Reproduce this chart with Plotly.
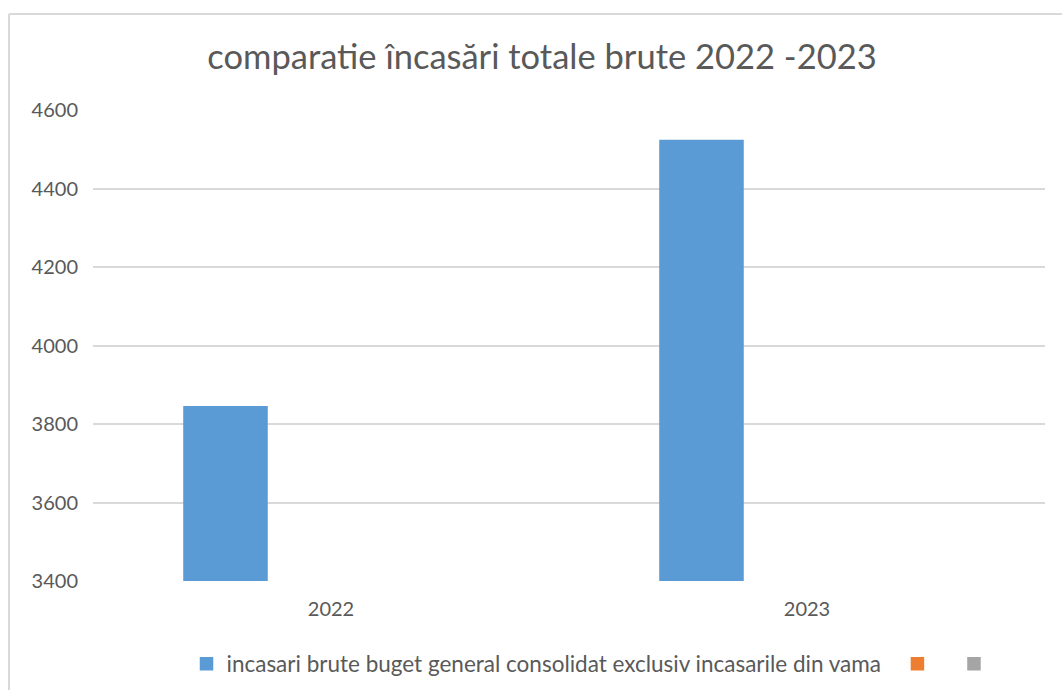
import plotly.graph_objects as go

years = ["2022", "2023"]
series_names = ["incasari brute buget general consolidat exclusiv incasarile din vama\u00a0\u00a0",
                "\u00a0\u00a0", "\u00a0"]
blue_vals = [3844, 4522]
orange_vals = [None, None]
gray_vals = [None, None]
tick_vals = [3400, 3600, 3800, 4000, 4200, 4400, 4600]

W, H = 1062, 690
L, R, T, B = 93, 17, 110, 109
pw = W - L - R
ph = H - T - B

def px_x(p):
    return (p - L) / pw

def px_y(p):
    return (H - B - p) / ph

font_color = "#595959"
fam = "Lato, 'Open Sans', sans-serif"

fig = go.Figure()
fig.add_trace(go.Bar(x=years, y=blue_vals, name=series_names[0],
                     marker=dict(color="#5B9BD5", line=dict(color="#5B9BD5", width=1.5))))
fig.add_trace(go.Bar(x=years, y=orange_vals, name=series_names[1],
                     marker=dict(color="#ED7D31", line=dict(color="#ED7D31", width=1.5))))
fig.add_trace(go.Bar(x=years, y=gray_vals, name=series_names[2],
                     marker=dict(color="#A5A5A5", line=dict(color="#A5A5A5", width=1.5))))

fig.update_layout(
    width=W, height=H,
    margin=dict(l=L, r=R, t=T, b=B, autoexpand=False),
    paper_bgcolor="white", plot_bgcolor="white",
    barmode="group", bargap=0.335, bargroupgap=0.213,
    font=dict(family=fam, color=font_color, size=19),
    title=dict(text="comparatie încasări totale brute 2022 -2023", x=542 / W, xref="container", xanchor="center",
               y=1 - 57 / H, yref="container", yanchor="middle",
               font=dict(size=34.5, color=font_color, family=fam)),
    showlegend=True,
    legend=dict(orientation="h", x=px_x(596), xanchor="center", y=px_y(664), yanchor="middle",
                font=dict(size=22.5, color=font_color), bgcolor="rgba(0,0,0,0)",
                itemwidth=30, borderwidth=0),
    shapes=[
        dict(type="line", xref="paper", yref="paper", x0=px_x(9), x1=px_x(1070), y0=px_y(14), y1=px_y(14),
             line=dict(color="#D9D9D9", width=2)),
        dict(type="line", xref="paper", yref="paper", x0=px_x(9), x1=px_x(9), y0=px_y(14), y1=px_y(700),
             line=dict(color="#D9D9D9", width=2)),
    ],
)
fig.update_yaxes(range=[3400, 4600], tickvals=tick_vals, showgrid=True, gridcolor="#D9D9D9", gridwidth=1.5,
                 zeroline=False, showline=False, ticks="", ticklabelstandoff=14, automargin=False,
                 tickfont=dict(size=20, color=font_color))
fig.update_xaxes(showgrid=False, showline=False, ticks="", ticklabelstandoff=14, automargin=False,
                 tickfont=dict(size=20, color=font_color))

fig.write_html("out.html", config={"displayModeBar": False},
               post_script="document.body.style.margin='0';document.body.style.overflow='hidden';")
